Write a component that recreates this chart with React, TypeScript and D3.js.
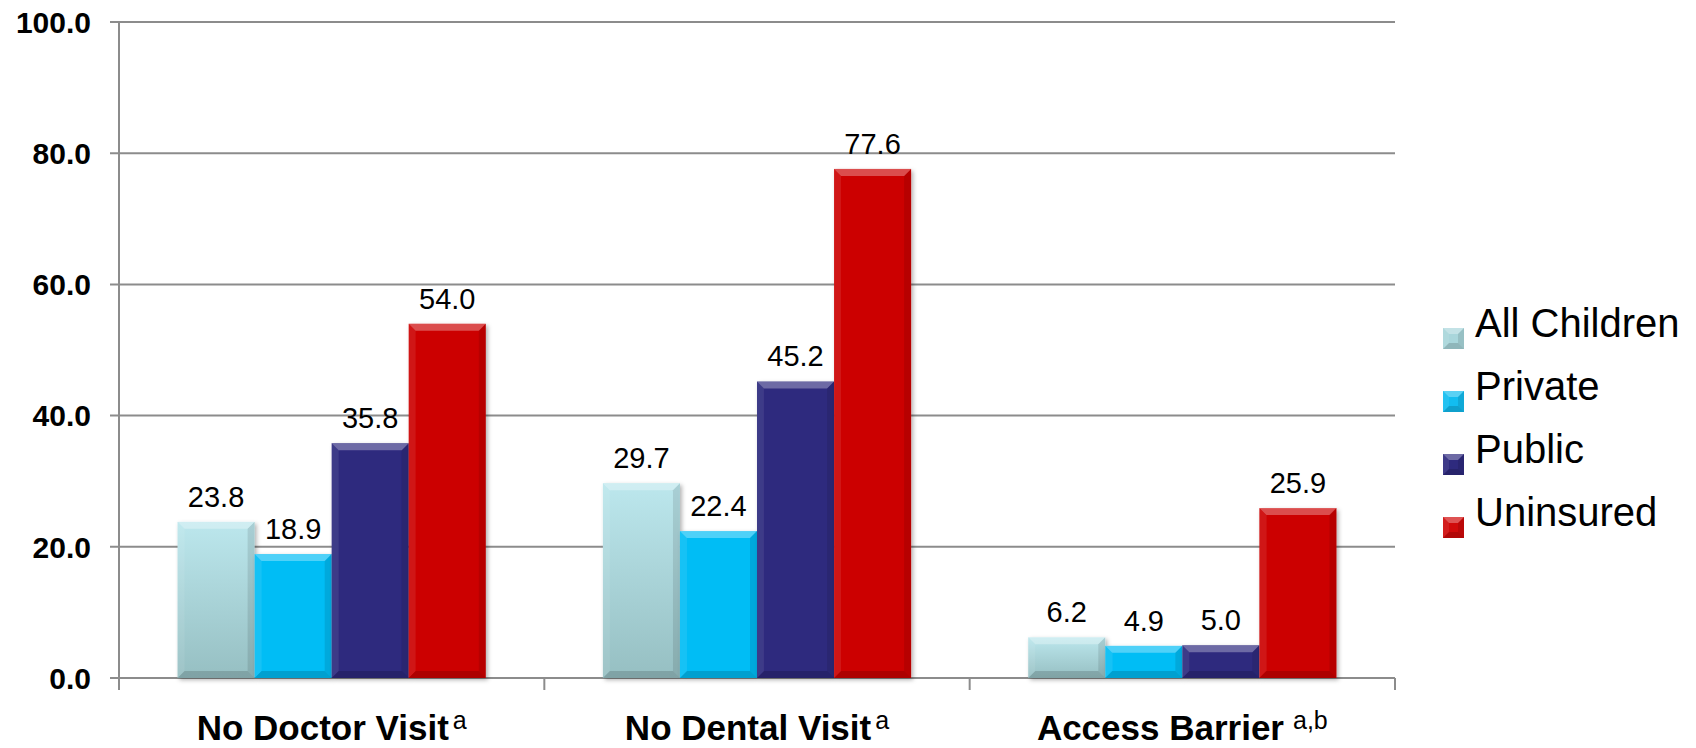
import React from "react";
import * as d3 from "d3";

const categories = ["No Doctor Visit", "No Dental Visit", "Access Barrier"];
const footnotes = ["a", "a", "a,b"];
const seriesNames = ["All Children", "Private", "Public", "Uninsured"];
const allChildren = [23.8, 29.7, 6.2];
const privateIns = [18.9, 22.4, 4.9];
const publicIns = [35.8, 45.2, 5.0];
const uninsured = [54.0, 77.6, 25.9];
const yTicks = [0, 20, 40, 60, 80, 100];

const seriesValues = [allChildren, privateIns, publicIns, uninsured];
const colors = ["url(#gradAll)", "#05bdf5", "#2e2a7e", "#cc0202"];
const legendColors = ["#a9d6db", "#12bdf0", "#2e2a7e", "#d00a0a"];

const W = 1696;
const H = 748;
const font = "Arial, 'Liberation Sans', sans-serif";

// bar with a bevelled edge like the office chart style
const Bevel = ({ x, y, w, h, fill, b = 7 }) => {
  const e = Math.min(b, h / 2, w / 2);
  const pts = (arr) => arr.map((p) => p.join(",")).join(" ");
  return (
    <g>
      <rect x={x} y={y} width={w} height={h} fill={fill} />
      <polygon
        points={pts([[x, y], [x + w, y], [x + w - e, y + e], [x + e, y + e]])}
        fill="#fff"
        opacity={0.3}
      />
      <polygon
        points={pts([[x, y], [x + e, y + e], [x + e, y + h - e], [x, y + h]])}
        fill="#fff"
        opacity={0.08}
      />
      <polygon
        points={pts([[x + w, y], [x + w - e, y + e], [x + w - e, y + h - e], [x + w, y + h]])}
        fill="#000"
        opacity={0.1}
      />
      <polygon
        points={pts([[x, y + h], [x + e, y + h - e], [x + w - e, y + h - e], [x + w, y + h]])}
        fill="#000"
        opacity={0.15}
      />
    </g>
  );
};

export default function App() {
  const left = 119;
  const right = 1395;
  const y = d3.scaleLinear().domain([0, 100]).range([678, 22]);
  const x0 = d3.scaleBand().domain(categories).range([left, right]).padding(0);
  const x1 = d3
    .scaleBand()
    .domain(seriesNames)
    .range([0, x0.bandwidth()])
    .paddingInner(0)
    .paddingOuter(0.76);

  return (
    <svg
      width={W}
      height={H}
      style={{ position: "absolute", left: 0, top: 0, background: "#fff" }}
      fontFamily={font}
    >
      <defs>
        <linearGradient id="gradAll" x1="0" y1="0" x2="0" y2="1">
          <stop offset="0" stopColor="#bce7ed" />
          <stop offset="1" stopColor="#96bfc2" />
        </linearGradient>
        <filter id="shadow" x="-10%" y="-10%" width="130%" height="130%">
          <feDropShadow dx="2" dy="2" stdDeviation="2" floodColor="#000" floodOpacity="0.3" />
        </filter>
      </defs>

      {/* grid lines and y labels */}
      {yTicks.map((t) => (
        <g key={t}>
          <line x1={110} x2={right} y1={y(t)} y2={y(t)} stroke="#8c8c8c" strokeWidth={2} />
          <text
            x={91}
            y={y(t)}
            dy="0.36em"
            textAnchor="end"
            fontSize={30}
            fontWeight="bold"
            fill="#000"
          >
            {d3.format(".1f")(t)}
          </text>
        </g>
      ))}
      <line x1={left} x2={left} y1={y(100)} y2={y(0) + 12} stroke="#8c8c8c" strokeWidth={2} />
      {categories.map((c) => (
        <line
          key={c}
          x1={x0(c) + x0.bandwidth()}
          x2={x0(c) + x0.bandwidth()}
          y1={y(0)}
          y2={y(0) + 12}
          stroke="#8c8c8c"
          strokeWidth={2}
        />
      ))}

      {/* bars */}
      {categories.map((c, ci) => (
        <g key={c} transform={`translate(${x0(c)},0)`}>
          {seriesNames.map((s, si) => {
            const v = seriesValues[si][ci];
            return (
              <g key={s} filter="url(#shadow)">
                <Bevel
                  x={x1(s)}
                  y={y(v)}
                  w={x1.bandwidth()}
                  h={y(0) - y(v)}
                  fill={colors[si]}
                />
              </g>
            );
          })}
          {seriesNames.map((s, si) => {
            const v = seriesValues[si][ci];
            return (
              <text
                key={s}
                x={x1(s) + x1.bandwidth() / 2}
                y={y(v) - 15}
                textAnchor="middle"
                fontSize={29}
                fill="#000"
              >
                {d3.format(".1f")(v)}
              </text>
            );
          })}
        </g>
      ))}

      {/* category labels */}
      {categories.map((c, ci) => (
        <text
          key={c}
          x={x0(c) + x0.bandwidth() / 2}
          y={740}
          textAnchor="middle"
          fontSize={35}
          fontWeight="bold"
          fill="#000"
        >
          {c}
          <tspan fontSize={25} fontWeight="normal" dx={ci === 2 ? 9 : 4} dy={-11}>
            {footnotes[ci]}
          </tspan>
        </text>
      ))}

      {/* legend */}
      {seriesNames.map((s, si) => {
        const base = 337 + si * 63;
        return (
          <g key={s}>
            <Bevel x={1443} y={base - 9} w={21} h={21} fill={legendColors[si]} b={6} />
            <text x={1475} y={base} fontSize={40} fill="#000">
              {s}
            </text>
          </g>
        );
      })}
    </svg>
  );
}
